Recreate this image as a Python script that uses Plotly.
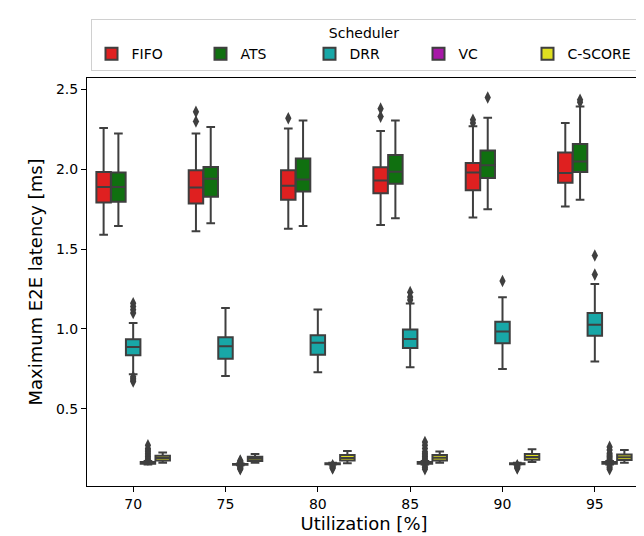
import plotly.graph_objects as go

categories = ["70", "75", "80", "85", "90", "95"]
schedulers = ["FIFO", "ATS", "DRR", "VC", "C-SCORE"]
colors = ["#df2020", "#107010", "#18a7a7", "#a718a7", "#dfdf20"]

# Box statistics per scheduler (one value per utilization level)
fifo_q1 = [1.792, 1.786, 1.809, 1.849, 1.868, 1.915]
fifo_med = [1.889, 1.886, 1.897, 1.930, 1.980, 1.977]
fifo_q3 = [1.983, 1.994, 1.994, 2.012, 2.039, 2.105]
fifo_lo = [1.590, 1.611, 1.627, 1.650, 1.697, 1.767]
fifo_hi = [2.259, 2.224, 2.255, 2.240, 2.270, 2.290]
fifo_out = [[], [2.30, 2.36], [2.32], [2.33, 2.38], [2.29, 2.31], []]

ats_q1 = [1.796, 1.827, 1.860, 1.909, 1.946, 1.983]
ats_med = [1.889, 1.940, 1.936, 1.985, 2.025, 2.049]
ats_q3 = [1.980, 2.014, 2.068, 2.090, 2.117, 2.158]
ats_lo = [1.644, 1.662, 1.644, 1.693, 1.750, 1.809]
ats_hi = [2.224, 2.265, 2.306, 2.306, 2.323, 2.393]
ats_out = [[], [], [], [], [2.45], [2.42, 2.435]]

drr_q1 = [0.835, 0.812, 0.837, 0.880, 0.909, 0.957]
drr_med = [0.886, 0.891, 0.913, 0.936, 0.983, 1.025]
drr_q3 = [0.934, 0.948, 0.960, 0.996, 1.045, 1.099]
drr_lo = [0.715, 0.705, 0.728, 0.759, 0.749, 0.796]
drr_hi = [1.037, 1.130, 1.121, 1.158, 1.198, 1.281]
drr_out = [[1.10, 1.12, 1.14, 1.16, 0.70, 0.69, 0.68, 0.67], [], [],
           [1.18, 1.20, 1.23], [1.30], [1.34, 1.46]]

vc_q1 = [0.155, 0.148, 0.152, 0.155, 0.152, 0.155]
vc_med = [0.160, 0.150, 0.155, 0.160, 0.155, 0.160]
vc_q3 = [0.165, 0.153, 0.158, 0.165, 0.158, 0.165]
vc_lo = [0.150, 0.145, 0.150, 0.150, 0.150, 0.150]
vc_hi = [0.172, 0.156, 0.160, 0.172, 0.160, 0.172]
vc_out = [[0.18, 0.19, 0.20, 0.21, 0.22, 0.23, 0.24, 0.25, 0.27],
          [0.12, 0.125, 0.13, 0.135, 0.14, 0.16, 0.165, 0.17, 0.175],
          [0.145, 0.14, 0.135, 0.13, 0.125],
          [0.18, 0.19, 0.20, 0.21, 0.22, 0.23, 0.25, 0.27, 0.29, 0.14, 0.13, 0.12],
          [0.145, 0.14, 0.135, 0.13, 0.125],
          [0.18, 0.19, 0.20, 0.21, 0.22, 0.24, 0.26, 0.14, 0.13, 0.12]]

cs_q1 = [0.175, 0.172, 0.175, 0.175, 0.180, 0.178]
cs_med = [0.190, 0.185, 0.190, 0.192, 0.197, 0.195]
cs_q3 = [0.205, 0.198, 0.210, 0.210, 0.215, 0.213]
cs_lo = [0.160, 0.160, 0.158, 0.160, 0.165, 0.160]
cs_hi = [0.225, 0.215, 0.235, 0.232, 0.245, 0.240]
cs_out = [[], [], [], [], [], []]

stats = [
    (fifo_q1, fifo_med, fifo_q3, fifo_lo, fifo_hi, fifo_out),
    (ats_q1, ats_med, ats_q3, ats_lo, ats_hi, ats_out),
    (drr_q1, drr_med, drr_q3, drr_lo, drr_hi, drr_out),
    (vc_q1, vc_med, vc_q3, vc_lo, vc_hi, vc_out),
    (cs_q1, cs_med, cs_q3, cs_lo, cs_hi, cs_out),
]

edge = "#3f3f3f"
fig = go.Figure()
for name, col, (q1, med, q3, lo, hi, outs) in zip(schedulers, colors, stats):
    fig.add_trace(go.Box(
        name=name, x=categories, q1=q1, median=med, q3=q3,
        lowerfence=lo, upperfence=hi,
        fillcolor=col, line=dict(color=edge, width=2),
        whiskerwidth=0.6, boxpoints=False,
        offsetgroup=name, alignmentgroup="a",
    ))
    ox, oy = [], []
    for c, vals in zip(categories, outs):
        for v in vals:
            ox.append(c)
            oy.append(v)
    if oy:
        fig.add_trace(go.Box(
            x=ox, y=oy, name=name, showlegend=False,
            boxpoints="all", jitter=0, pointpos=0,
            fillcolor="rgba(0,0,0,0)", line=dict(color="rgba(0,0,0,0)", width=0),
            marker=dict(symbol="diamond-tall", size=9, color=edge),
            offsetgroup=name, alignmentgroup="a", hoveron="points",
        ))

fig.update_layout(
    width=644, height=536,
    margin=dict(l=79, r=11, t=64, b=58),
    paper_bgcolor="white", plot_bgcolor="white",
    boxmode="group", boxgap=0.2, boxgroupgap=0.02,
    font=dict(family="DejaVu Sans", size=14, color="black"),
    legend=dict(
        orientation="h", x=0.5, xanchor="center", y=1.017, yanchor="bottom",
        title=dict(text="Scheduler", side="top center", font=dict(size=14)),
        bordercolor="#d0d0d0", borderwidth=1, font=dict(size=14),
        entrywidth=64, entrywidthmode="pixels",
    ),
    xaxis=dict(
        title=dict(text="Utilization [%]", font=dict(size=18), standoff=6),
        type="category", range=[-0.5, 5.5],
        showline=True, linecolor="black", linewidth=1, mirror=True,
        ticks="outside", ticklen=5, tickcolor="black", showgrid=False,
        tickfont=dict(size=14),
    ),
    yaxis=dict(
        title=dict(text="Maximum E2E latency [ms]", font=dict(size=18), standoff=8),
        range=[0.015, 2.572], tickvals=[0.5, 1.0, 1.5, 2.0, 2.5], tickformat=".1f",
        showline=True, linecolor="black", linewidth=1, mirror=True,
        ticks="outside", ticklen=5, tickcolor="black", showgrid=False,
        zeroline=False, tickfont=dict(size=14),
    ),
)

fig.write_html("out.html")
